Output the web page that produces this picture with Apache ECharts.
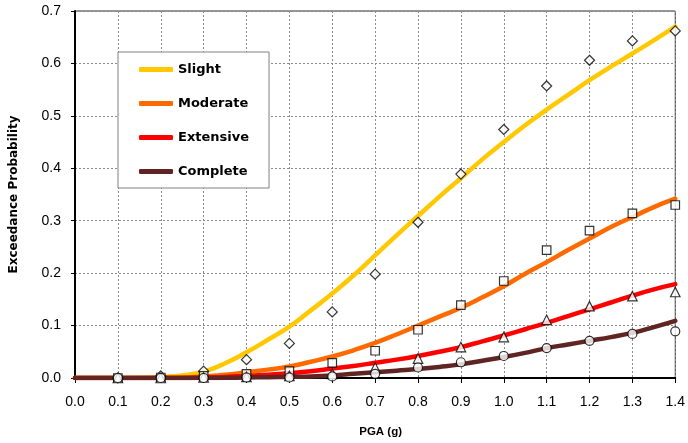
<!DOCTYPE html>
<html>
<head>
<meta charset="utf-8">
<title>Fragility curves</title>
<script src="https://cdn.jsdelivr.net/npm/echarts@6/dist/echarts.min.js"></script>
<style>
  html, body { margin: 0; padding: 0; background: #fff; }
  #chart { width: 688px; height: 443px; }
</style>
</head>
<body>
<div id="chart"></div>
<script>
// Fitted fragility curves, sampled every 0.05 g
const curveX = [0, 0.05, 0.1, 0.15, 0.2, 0.25, 0.3, 0.35, 0.4, 0.45, 0.5, 0.55, 0.6, 0.65, 0.7,
  0.75, 0.8, 0.85, 0.9, 0.95, 1.0, 1.05, 1.1, 1.15, 1.2, 1.25, 1.3, 1.35, 1.4];
const slightCurve = [0, 0, 0, 0.0005, 0.002, 0.005, 0.012, 0.028, 0.049, 0.073, 0.098, 0.129, 0.161, 0.196, 0.234,
  0.272, 0.309, 0.346, 0.381, 0.417, 0.450, 0.482, 0.512, 0.540, 0.568, 0.594, 0.619, 0.644, 0.670];
const moderateCurve = [0, 0, 0, 0, 0.0005, 0.001, 0.003, 0.006, 0.011, 0.016, 0.022, 0.031, 0.041, 0.053, 0.067,
  0.083, 0.100, 0.117, 0.134, 0.154, 0.175, 0.199, 0.221, 0.244, 0.266, 0.288, 0.307, 0.326, 0.342];
const extensiveCurve = [0, 0, 0, 0, 0, 0, 0.001, 0.002, 0.004, 0.006, 0.009, 0.013, 0.018, 0.023, 0.029,
  0.035, 0.042, 0.050, 0.059, 0.070, 0.081, 0.093, 0.105, 0.118, 0.131, 0.144, 0.157, 0.169, 0.179];
const completeCurve = [0, 0, 0, 0, 0, 0, 0, 0.0003, 0.001, 0.0015, 0.002, 0.003, 0.005, 0.008, 0.011,
  0.014, 0.017, 0.021, 0.026, 0.033, 0.040, 0.048, 0.057, 0.064, 0.071, 0.078, 0.086, 0.097, 0.109];

// Empirical exceedance probabilities at each PGA level
const pgaLevels = [0.1, 0.2, 0.3, 0.4, 0.5, 0.6, 0.7, 0.8, 0.9, 1.0, 1.1, 1.2, 1.3, 1.4];
const slightPts = [0.000, 0.004, 0.013, 0.035, 0.066, 0.126, 0.198, 0.297, 0.389, 0.474, 0.557, 0.606, 0.643, 0.662];
const moderatePts = [0.000, 0.001, 0.004, 0.008, 0.013, 0.029, 0.052, 0.092, 0.139, 0.185, 0.244, 0.281, 0.314, 0.330];
const extensivePts = [0.000, 0.000, 0.001, 0.002, 0.004, 0.008, 0.020, 0.037, 0.059, 0.078, 0.111, 0.137, 0.156, 0.164];
const completePts = [0.000, 0.000, 0.000, 0.001, 0.001, 0.003, 0.008, 0.020, 0.030, 0.042, 0.057, 0.071, 0.084, 0.089];

const xTicks = [0, 0.1, 0.2, 0.3, 0.4, 0.5, 0.6, 0.7, 0.8, 0.9, 1.0, 1.1, 1.2, 1.3, 1.4];
const yTicks = [0, 0.1, 0.2, 0.3, 0.4, 0.5, 0.6, 0.7];

const states = [
  { name: 'Slight', color: '#FFC800', curve: slightCurve, pts: slightPts, symbol: 'diamond', size: 10 },
  { name: 'Moderate', color: '#FF6A00', curve: moderateCurve, pts: moderatePts, symbol: 'rect', size: 8.5 },
  { name: 'Extensive', color: '#FF0000', curve: extensiveCurve, pts: extensivePts, symbol: 'triangle', size: 9.5 },
  { name: 'Complete', color: '#602422', curve: completeCurve, pts: completePts, symbol: 'circle', size: 9 }
];

const baseFont = "'Liberation Sans', Arial, sans-serif";
const gridLine = { show: true, lineStyle: { color: '#8a8a8a', width: 1, type: [2, 2] } };

const series = [];
states.forEach((s, i) => {
  series.push({
    name: s.name,
    type: 'line',
    data: curveX.map((x, k) => [x, s.curve[k]]),
    smooth: 0.5,
    showSymbol: false,
    symbol: 'none',
    lineStyle: { color: s.color, width: 4.5, cap: 'round', join: 'round' },
    itemStyle: { color: s.color },
    z: 2 + i,
    silent: true
  });
});
states.forEach((s) => {
  series.push({
    name: s.name + ' data',
    type: 'scatter',
    data: pgaLevels.map((x, k) => [x, s.pts[k]]),
    symbol: s.symbol,
    symbolSize: s.size,
    itemStyle: { color: '#ffffff', borderColor: '#000000', borderWidth: 1.2 },
    z: 10,
    silent: true
  });
});

const chart = echarts.init(document.getElementById('chart'), null, { renderer: 'canvas' });
chart.setOption({
  animation: false,
  backgroundColor: '#ffffff',
  grid: {
    left: 74, top: 11, right: 11, bottom: 65,
    show: true, borderColor: '#333333', borderWidth: 1, backgroundColor: 'transparent'
  },
  legend: {
    data: states.map(s => s.name),
    orient: 'vertical',
    left: 118, top: 52,
    padding: [11, 20, 10, 21],
    itemGap: 21,
    itemWidth: 34,
    itemHeight: 5,
    icon: 'roundRect',
    backgroundColor: '#ffffff',
    borderColor: '#808080',
    borderWidth: 1,
    textStyle: { color: '#000', fontFamily: "'DejaVu Sans', sans-serif", fontWeight: 'bold', fontSize: 13 }
  },
  xAxis: {
    type: 'value',
    min: xTicks[0], max: xTicks[xTicks.length - 1], interval: 0.1,
    name: 'PGA (g)',
    nameLocation: 'middle',
    nameGap: 48,
    nameTextStyle: { color: '#000', fontFamily: baseFont, fontWeight: 'bold', fontSize: 11.5, padding: [0, 0, 0, 11] },
    axisLine: { show: true, onZero: false, lineStyle: { color: '#000', width: 2 } },
    axisTick: { show: true, inside: false, length: 5, lineStyle: { color: '#000', width: 1 } },
    axisLabel: { color: '#000', fontFamily: baseFont, fontSize: 14, margin: 17, formatter: v => v.toFixed(1) },
    splitLine: gridLine
  },
  yAxis: {
    type: 'value',
    min: yTicks[0], max: yTicks[yTicks.length - 1], interval: 0.1,
    name: 'Exceedance Probability',
    nameLocation: 'middle',
    nameGap: 55,
    nameRotate: 90,
    nameTextStyle: { color: '#000', fontFamily: "'DejaVu Sans', sans-serif", fontWeight: 'bold', fontSize: 12 },
    axisLine: { show: true, onZero: false, lineStyle: { color: '#000', width: 2 } },
    axisTick: { show: true, inside: false, length: 4, lineStyle: { color: '#000', width: 1 } },
    axisLabel: { color: '#000', fontFamily: baseFont, fontSize: 14, margin: 14, formatter: v => v.toFixed(1) },
    splitLine: gridLine
  },
  series: series
});
</script>
</body>
</html>
